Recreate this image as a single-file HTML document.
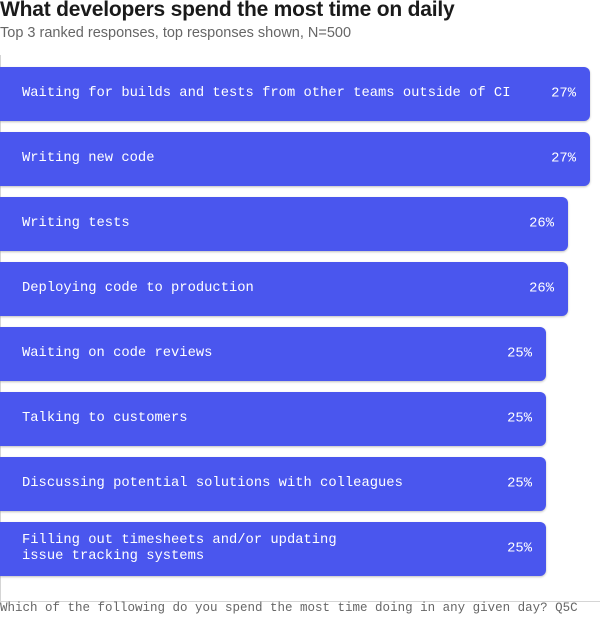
<!DOCTYPE html>
<html><head><meta charset="utf-8"><style>
body{margin:0;width:600px;height:617px;background:#fff;position:relative;overflow:hidden;font-family:"Liberation Sans",sans-serif}
.t{position:absolute;left:0;top:-2px;font-size:21px;font-weight:bold;color:#1a1a1a;letter-spacing:-0.2px}
.s{position:absolute;left:0;top:25px;font-size:14.5px;color:#666}
.frame{position:absolute;left:0;top:55px;width:600px;height:547px;border-left:1.5px solid #d5d5d5;border-bottom:1.5px solid #d5d5d5;box-sizing:border-box}
.b{position:absolute;left:0;height:54px;background:#4a56ee;border-radius:0 6px 6px 0;color:#fff;font-family:"Liberation Mono",monospace;font-size:13.8px;box-shadow:0 1px 2px rgba(0,0,0,.25)}
.b .l{position:absolute;left:22px;top:50%;transform:translateY(-50%);line-height:16px}
.b .p{position:absolute;right:14px;top:50%;transform:translateY(-50%)}
.f{position:absolute;left:0;top:601px;font-family:"Liberation Mono",monospace;font-size:12.5px;color:#666}
</style></head><body>
<div class="t">What developers spend the most time on daily</div>
<div class="s">Top 3 ranked responses, top responses shown, N=500</div>
<div class="frame"></div>
<div class="b" style="top:67px;width:590px"><span class="l">Waiting for builds and tests from other teams outside of CI</span><span class="p">27%</span></div>
<div class="b" style="top:132px;width:590px"><span class="l">Writing new code</span><span class="p">27%</span></div>
<div class="b" style="top:197px;width:568px"><span class="l">Writing tests</span><span class="p">26%</span></div>
<div class="b" style="top:262px;width:568px"><span class="l">Deploying code to production</span><span class="p">26%</span></div>
<div class="b" style="top:327px;width:546px"><span class="l">Waiting on code reviews</span><span class="p">25%</span></div>
<div class="b" style="top:392px;width:546px"><span class="l">Talking to customers</span><span class="p">25%</span></div>
<div class="b" style="top:457px;width:546px"><span class="l">Discussing potential solutions with colleagues</span><span class="p">25%</span></div>
<div class="b" style="top:522px;width:546px"><span class="l">Filling out timesheets and/or updating<br>issue tracking systems</span><span class="p">25%</span></div>
<div class="f">Which of the following do you spend the most time doing in any given day? Q5C</div>
</body></html>
